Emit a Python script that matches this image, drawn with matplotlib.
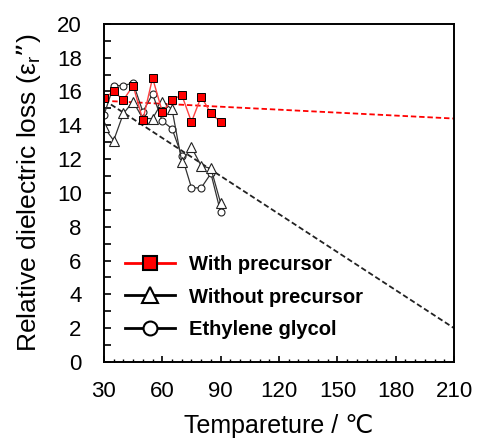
import matplotlib
matplotlib.use("Agg")
import matplotlib.pyplot as plt
from matplotlib.lines import Line2D
from matplotlib.ticker import MultipleLocator

plt.rcParams['font.family'] = ['Liberation Sans', 'DejaVu Sans']

# temperature (deg C) of each measurement
temp = [30, 35, 40, 45, 50, 55, 60, 65, 70, 75, 80, 85, 90]

# relative dielectric loss
with_prec = [15.6, 16.0, 15.5, 16.35, 14.3, 16.8, 14.8, 15.5, 15.8, 14.2, 15.7, 14.7, 14.2]
without_prec = [13.9, 13.1, 14.7, 15.4, 14.4, 14.4, 15.4, 14.95, 11.85, 12.7, 11.6, 11.45, 9.4]
eth_glycol = [14.6, 16.35, 16.35, 16.5, 14.8, 15.85, 14.25, 13.8, 12.2, 10.3, 10.3, 11.15, 8.85]

# linear extrapolation lines
fit_temp = [30, 210]
fit_with = [15.45, 14.4]
fit_without = [15.5, 2.0]

fig = plt.figure(figsize=(4.79, 4.42), dpi=100)
ax = fig.add_axes([0.217, 0.181, 0.731, 0.765])

dash = (3, 1.6)
ax.plot(fit_temp, fit_with, color='red', lw=1.3, dashes=dash)
ax.plot(fit_temp, fit_without, color='#222222', lw=1.3, dashes=dash)

ax.plot(temp, eth_glycol, color='#333333', lw=0.9, marker='o', ms=5,
        mfc='white', mec='#222222', mew=0.8)
ax.plot(temp, without_prec, color='#333333', lw=0.9, marker='^', ms=6.5,
        mfc='white', mec='#222222', mew=0.8)
ax.plot(temp, with_prec, color='#ff4040', lw=1.0, marker='s', ms=5.2,
        mfc='red', mec='black', mew=0.7)

ax.set_xlim(30, 210)
ax.set_ylim(0, 20)
ax.xaxis.set_major_locator(MultipleLocator(30))
ax.xaxis.set_minor_locator(MultipleLocator(5))
ax.yaxis.set_major_locator(MultipleLocator(2))
ax.yaxis.set_minor_locator(MultipleLocator(1))

ax.tick_params(axis='x', which='major', direction='in', length=4, width=1.2,
               labelsize=16, pad=14)
ax.tick_params(axis='x', which='minor', direction='in', length=2.5, width=1.0)
ax.tick_params(axis='y', which='both', direction='in', length=5, width=1.2,
               labelsize=16, pad=16)
for s in ax.spines.values():
    s.set_linewidth(1.4)

ax.set_xlabel('Tempareture / ℃', fontsize=18, labelpad=8)
ax.set_ylabel('Relative dielectric loss (ε$_\\mathregular{r}$”)', fontsize=19, labelpad=10)

handles = [
    Line2D([], [], color='red', lw=2, marker='s', ms=10, mfc='red', mec='black', mew=1.5),
    Line2D([], [], color='black', lw=2, marker='^', ms=12, mfc='white', mec='black', mew=1.5),
    Line2D([], [], color='black', lw=2, marker='o', ms=10, mfc='white', mec='black', mew=1.5),
]
labels = ['With precursor', 'Without precursor', 'Ethylene glycol']
ax.legend(handles, labels, loc='upper left', bbox_to_anchor=(0.06, 0.317),
          frameon=False, borderpad=0, borderaxespad=0, handlelength=2.5,
          handletextpad=0.7, labelspacing=0.68,
          prop={'weight': 'bold', 'size': 14.5})

fig.savefig('out.png', dpi=100)
